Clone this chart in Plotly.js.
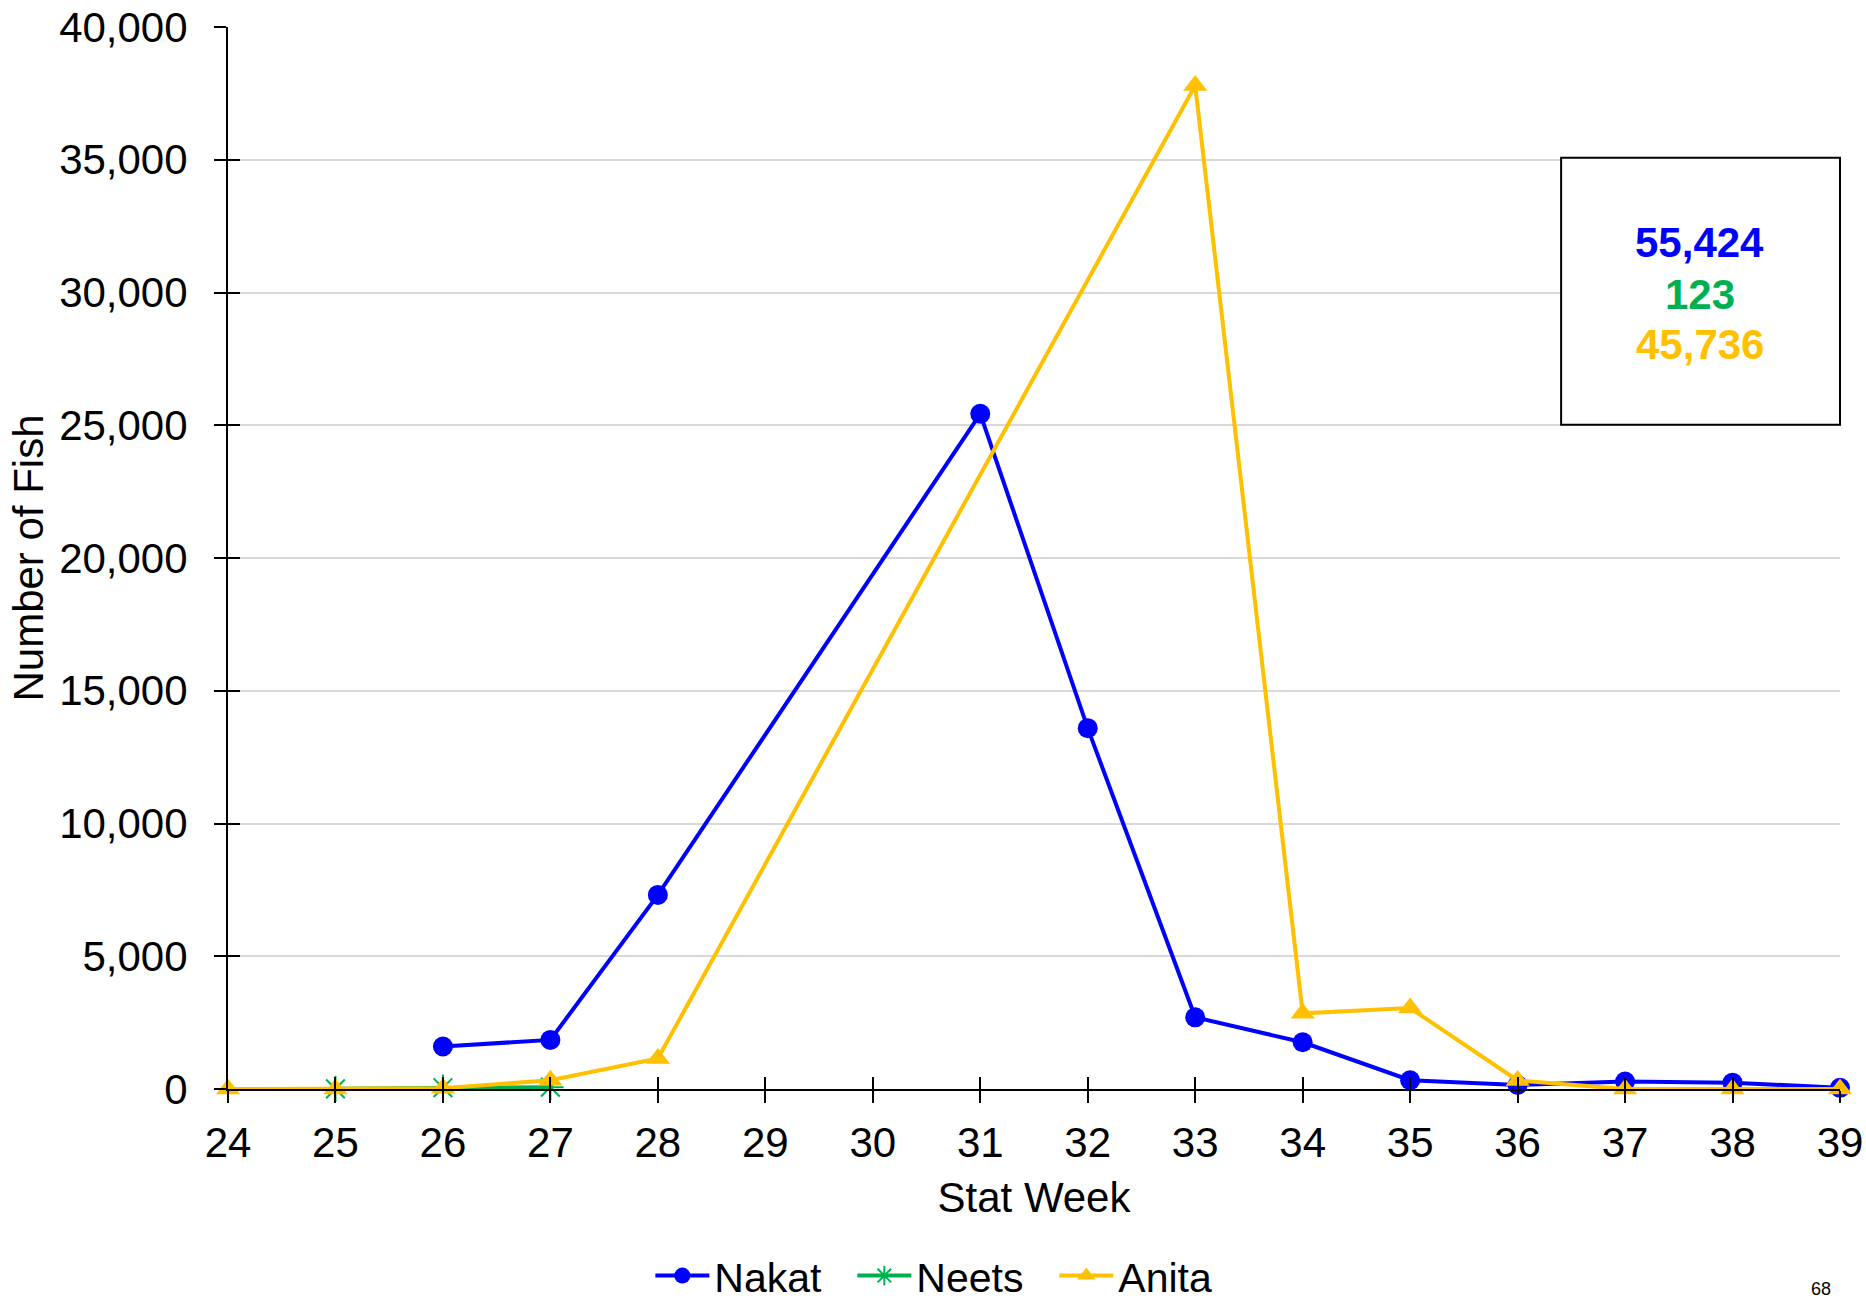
<!DOCTYPE html>
<html>
<head>
<meta charset="utf-8">
<script src="https://cdn.plot.ly/plotly-3.0.1.min.js"></script>
<style>html,body{margin:0;padding:0;background:#fff;}#chart{width:1866px;height:1303px;}</style>
</head>
<body>
<div id="chart"></div>
<script>
// Data
const statWeeks = [24, 25, 26, 27, 28, 29, 30, 31, 32, 33, 34, 35, 36, 37, 38, 39];
const nakat = [null, null, 1600, 1850, 7310, null, null, 25430, 13590, 2700, 1760, 330, 150, 280, 240, 45];
const neets = [null, 5, 48, 70, null, null, null, null, null, null, null, null, null, null, null, null];
const anita = [0, 0, 30, 330, 1150, null, null, null, null, 37800, 2850, 3050, 320, 0, 0, 0];
const totals = ["55,424", "123", "45,736"];
const seriesNames = ["Nakat", "Neets", "Anita"];
const colors = ["#0000FF", "#00B050", "#FFC000"];

const FONT = "Liberation Sans, Arial, sans-serif";

const traces = [
  {x: statWeeks, y: nakat, name: seriesNames[0], type: "scatter", mode: "lines+markers", connectgaps: true, cliponaxis: false,
   line: {color: colors[0], width: 4}, marker: {symbol: "circle", size: 20, color: colors[0]}},
  {x: statWeeks, y: neets, name: seriesNames[1], type: "scatter", mode: "lines+markers", connectgaps: true, cliponaxis: false,
   line: {color: colors[1], width: 4}, marker: {symbol: "asterisk-open", size: 22, color: colors[1], line: {color: colors[1], width: 2}}},
  {x: statWeeks, y: anita, name: seriesNames[2], type: "scatter", mode: "lines+markers", connectgaps: true, cliponaxis: false,
   line: {color: colors[2], width: 4}, marker: {symbol: "triangle-up", size: 21, color: colors[2]}},
  {x: [], y: [], xaxis: "x2", yaxis: "y2", showlegend: false, hoverinfo: "skip", type: "scatter"}
];

const axisFont = {family: FONT, size: 42, color: "#000"};

const layout = {
  width: 1866, height: 1303,
  paper_bgcolor: "#fff", plot_bgcolor: "#fff",
  margin: {l: 228, r: 26, t: 27, b: 214, autoexpand: false},
  font: {family: FONT, color: "#000"},
  showlegend: true,
  legend: {orientation: "h", x: 0.262, xanchor: "left", y: -0.176, yanchor: "middle",
           font: {family: FONT, size: 41, color: "#000"}, itemwidth: 54, entrywidth: 133, entrywidthmode: "pixels", tracegroupgap: 0},
  xaxis: {range: [24, 39], dtick: 1, tick0: 24, showgrid: false, zeroline: false, automargin: false,
          showline: true, linecolor: "#000", linewidth: 2, ticks: "outside", ticklen: 12, tickwidth: 2, tickcolor: "#000",
          tickfont: axisFont, ticklabelstandoff: 4,
          title: {text: "Stat Week", font: axisFont, standoff: 17}},
  yaxis: {range: [0, 40000], dtick: 5000, tick0: 0, tickformat: ",d", showgrid: true, gridcolor: "#d9d9d9", gridwidth: 2,
          zeroline: false, showline: true, linecolor: "#000", linewidth: 2, ticks: "outside", ticklen: 12, tickwidth: 2, tickcolor: "#000",
          tickfont: axisFont, ticklabelstandoff: 18, automargin: false,
          title: {text: "Number of Fish", font: axisFont, standoff: 2}},
  xaxis2: {overlaying: "x", anchor: "y2", range: [24, 39], dtick: 1, tick0: 24, showgrid: false, zeroline: false, showline: false,
           ticks: "inside", ticklen: 12, tickwidth: 2, tickcolor: "#000", showticklabels: false, automargin: false},
  yaxis2: {overlaying: "y", anchor: "x2", range: [0, 40000], dtick: 5000, tick0: 0, showgrid: false, zeroline: false, showline: false,
           ticks: "inside", ticklen: 12, tickwidth: 2, tickcolor: "#000", showticklabels: false, automargin: false},
  shapes: [
    {type: "rect", xref: "paper", yref: "paper", x0: 0.827, x1: 1.0, y0: 0.6255, y1: 0.877,
     line: {color: "#000", width: 2}, fillcolor: "rgba(255,255,255,1)", layer: "above"}
  ],
  annotations: [
    {xref: "paper", yref: "paper", x: 0.913, y: 0.797, text: "<b>" + totals[0] + "</b>", showarrow: false,
     font: {family: FONT, size: 42, color: colors[0]}, xanchor: "center", yanchor: "middle"},
    {xref: "paper", yref: "paper", x: 0.913, y: 0.748, text: "<b>" + totals[1] + "</b>", showarrow: false,
     font: {family: FONT, size: 42, color: colors[1]}, xanchor: "center", yanchor: "middle"},
    {xref: "paper", yref: "paper", x: 0.913, y: 0.701, text: "<b>" + totals[2] + "</b>", showarrow: false,
     font: {family: FONT, size: 42, color: colors[2]}, xanchor: "center", yanchor: "middle"},
    {xref: "paper", yref: "paper", x: 0.988, y: -0.188, text: "68", showarrow: false,
     font: {family: FONT, size: 18, color: "#000"}, xanchor: "center", yanchor: "middle"}
  ]
};

Plotly.newPlot("chart", traces, layout, {displayModeBar: false, staticPlot: true});
</script>
</body>
</html>
